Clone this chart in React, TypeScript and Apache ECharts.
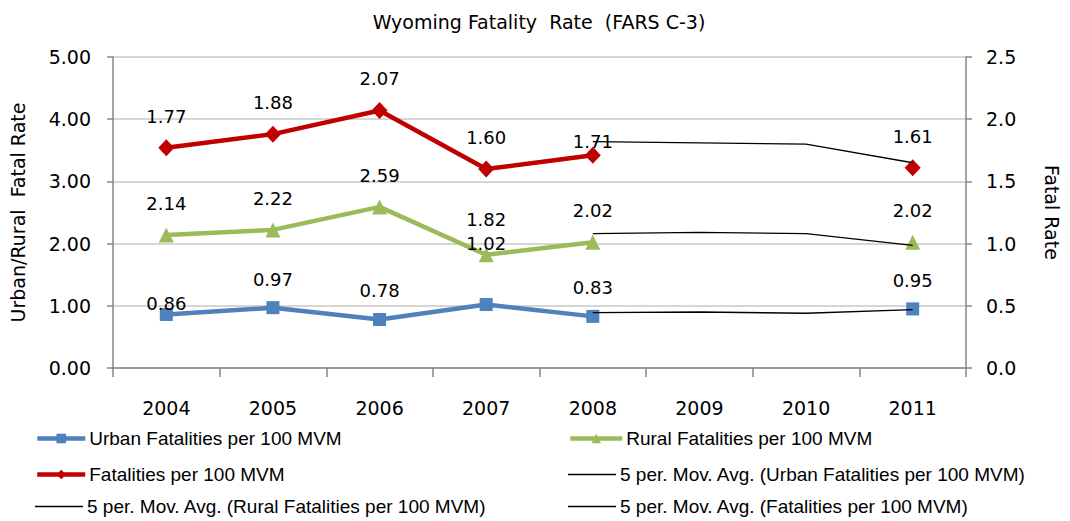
import React, { useEffect, useRef } from "react";
import * as echarts from "echarts";

const years = ["2004", "2005", "2006", "2007", "2008", "2009", "2010", "2011"];
const urban = [0.86, 0.97, 0.78, 1.02, 0.83, null, null, 0.95];
const rural = [2.14, 2.22, 2.59, 1.82, 2.02, null, null, 2.02];
const fatal = [1.77, 1.88, 2.07, 1.6, 1.71, null, null, 1.61];
const urbanMA = [null, null, null, null, 0.89, 0.9, 0.88, 0.94];
const ruralMA = [null, null, null, null, 2.16, 2.18, 2.16, 1.97];
const fatalMA = [null, null, null, null, 1.82, 1.81, 1.8, 1.65];

const names = [
  "Urban Fatalities per 100 MVM",
  "Rural Fatalities per 100 MVM",
  "Fatalities per 100 MVM",
  "5 per. Mov. Avg. (Urban Fatalities per 100 MVM)",
  "5 per. Mov. Avg. (Rural Fatalities per 100 MVM)",
  "5 per. Mov. Avg. (Fatalities per 100 MVM)",
];

const title = "Wyoming Fatality  Rate  (FARS C-3)";
const leftAxisName = "Urban/Rural  Fatal Rate";
const rightAxisName = "Fatal Rate";

const FONT = "DejaVu Sans";
const LEGEND_FONT = "Liberation Sans";

export default function App() {
  const ref = useRef<HTMLDivElement>(null);
  useEffect(() => {
    if (!ref.current) return;
    const chart = echarts.init(ref.current, undefined, { renderer: "svg" });

    const fmt = (p: any) => (p.value == null ? "" : Number(p.value).toFixed(2));
    const labelBase = {
      show: true,
      position: "top",
      color: "#000",
      fontFamily: FONT,
      fontSize: 18,
      formatter: fmt,
    };
    const withDist = (arr: (number | null)[], base: number, over: Record<number, number>) =>
      arr.map((v, i) => ({
        value: v,
        label: { distance: over[i] !== undefined ? over[i] : base },
      }));

    const legendPos = [
      { left: 35, top: 429 },
      { left: 568, top: 429 },
      { left: 35, top: 465 },
      { left: 568, top: 465 },
      { left: 35, top: 497 },
      { left: 568, top: 497 },
    ];

    const option: any = {
      animation: false,
      title: {
        text: title,
        left: 534,
        textAlign: "center",
        top: 7,
        textStyle: { fontFamily: FONT, fontSize: 19, fontWeight: "normal", color: "#000" },
      },
      legend: names.map((n, i) => {
        const isMA = i >= 3;
        return {
          data: isMA ? [{ name: n, icon: "rect" }] : [n],
          left: legendPos[i].left,
          top: legendPos[i].top,
          padding: 0,
          itemWidth: i === 1 ? 52 : 48,
          itemHeight: isMA ? 1.5 : 12,
          lineStyle: { width: 4.5 },
          textStyle: { fontFamily: LEGEND_FONT, fontSize: 19, color: "#000", padding: [0, 0, 0, -1] },
          selectedMode: false,
        };
      }),
      grid: { left: 112, right: 104, top: 57, bottom: 153, containLabel: false },
      xAxis: {
        type: "category",
        data: years,
        boundaryGap: true,
        axisLine: { lineStyle: { color: "#868686", width: 1.5 } },
        axisTick: { show: true, length: 9, inside: false, lineStyle: { color: "#868686", width: 1.5 } },
        axisLabel: { margin: 30, fontFamily: FONT, fontSize: 19, color: "#000" },
      },
      yAxis: [
        {
          type: "value",
          min: 0,
          max: 5,
          interval: 1,
          name: leftAxisName,
          nameLocation: "middle",
          nameGap: 86,
          nameTextStyle: { fontFamily: FONT, fontSize: 19, color: "#000" },
          axisLine: { show: true, lineStyle: { color: "#868686", width: 1.5 } },
          axisTick: { show: true, length: 6, lineStyle: { color: "#868686", width: 1.5 } },
          axisLabel: {
            margin: 22,
            fontFamily: FONT,
            fontSize: 19,
            color: "#000",
            formatter: (v: number) => v.toFixed(2),
          },
          splitLine: { show: true, lineStyle: { color: "#C8C8C8", width: 1.5 } },
        },
        {
          type: "value",
          min: 0,
          max: 2.5,
          interval: 0.5,
          position: "right",
          name: rightAxisName,
          nameLocation: "middle",
          nameGap: 76,
          nameRotate: -90,
          nameTextStyle: { fontFamily: FONT, fontSize: 19, color: "#000" },
          axisLine: { show: true, lineStyle: { color: "#868686", width: 1.5 } },
          axisTick: { show: true, length: 6, lineStyle: { color: "#868686", width: 1.5 } },
          axisLabel: {
            margin: 20,
            fontFamily: FONT,
            fontSize: 19,
            color: "#000",
            formatter: (v: number) => v.toFixed(1),
          },
          splitLine: { show: false },
        },
      ],
      series: [
        {
          name: names[0],
          type: "line",
          yAxisIndex: 0,
          data: withDist(urban, 13, { 0: -4, 3: 46 }),
          connectNulls: false,
          symbol: "rect",
          symbolSize: 13,
          itemStyle: { color: "#4F81BD" },
          lineStyle: { color: "#4F81BD", width: 4.5 },
          label: labelBase,
          z: 3,
        },
        {
          name: names[1],
          type: "line",
          yAxisIndex: 0,
          data: withDist(rural, 15, { 3: 19 }),
          connectNulls: false,
          symbol: "triangle",
          symbolSize: 15,
          itemStyle: { color: "#9BBB59" },
          lineStyle: { color: "#9BBB59", width: 4.5 },
          label: labelBase,
          z: 3,
        },
        {
          name: names[2],
          type: "line",
          yAxisIndex: 1,
          data: withDist(fatal, 14, { 4: -4 }),
          connectNulls: false,
          symbol: "diamond",
          symbolSize: [16, 17],
          itemStyle: { color: "#C00000" },
          lineStyle: { color: "#C00000", width: 4.5 },
          label: labelBase,
          z: 3,
        },
        {
          name: names[3],
          type: "line",
          yAxisIndex: 0,
          data: urbanMA,
          symbol: "none",
          lineStyle: { color: "#000", width: 1.3 },
          itemStyle: { color: "#000" },
          z: 4,
        },
        {
          name: names[4],
          type: "line",
          yAxisIndex: 0,
          data: ruralMA,
          symbol: "none",
          lineStyle: { color: "#000", width: 1.3 },
          itemStyle: { color: "#000" },
          z: 4,
        },
        {
          name: names[5],
          type: "line",
          yAxisIndex: 1,
          data: fatalMA,
          symbol: "none",
          lineStyle: { color: "#000", width: 1.3 },
          itemStyle: { color: "#000" },
          z: 4,
        },
      ],
    };
    chart.setOption(option);
    return () => chart.dispose();
  }, []);
  return (
    <div
      ref={ref}
      style={{ position: "absolute", left: 0, top: 0, width: 1070, height: 521, background: "#fff" }}
    />
  );
}
